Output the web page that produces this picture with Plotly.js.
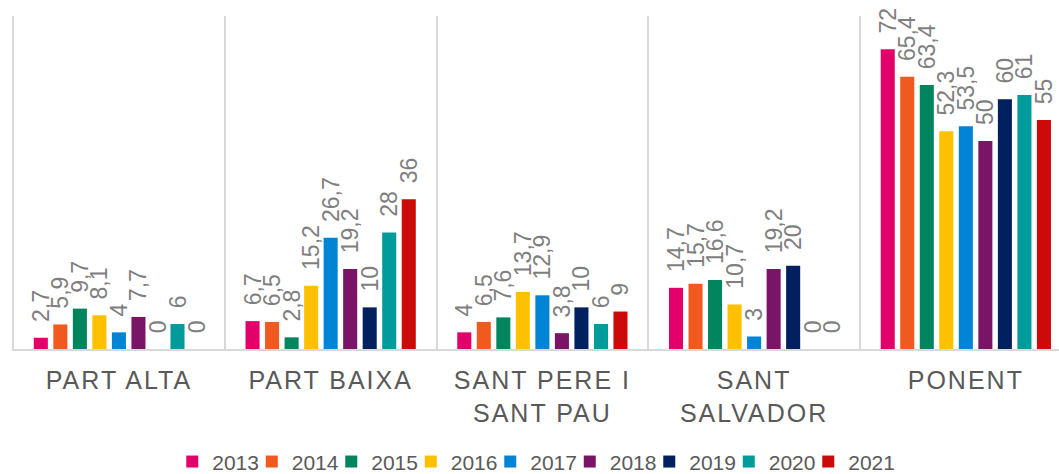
<!DOCTYPE html>
<html>
<head>
<meta charset="utf-8">
<script src="https://cdn.plot.ly/plotly-3.0.1.min.js"></script>
<style>
  html, body { margin: 0; padding: 0; background: #fff; }
  #chart .xtick text { letter-spacing: 2px; }
  #chart .legend .scrollbox { clip-path: none !important; }
</style>
</head>
<body>
<div id="chart" style="width:1059px;height:474px;"></div>
<script>
const categories = ["PART ALTA", "PART BAIXA", "SANT PERE I<br>SANT PAU", "SANT<br>SALVADOR", "PONENT"];
const years = ["2013", "2014", "2015", "2016", "2017", "2018", "2019", "2020", "2021"];
const v2013 = [2.7, 6.7, 4, 14.7, 72];
const v2014 = [5.9, 6.5, 6.5, 15.7, 65.4];
const v2015 = [9.7, 2.8, 7.6, 16.6, 63.4];
const v2016 = [8.1, 15.2, 13.7, 10.7, 52.3];
const v2017 = [4, 26.7, 12.9, 3, 53.5];
const v2018 = [7.7, 19.2, 3.8, 19.2, 50];
const v2019 = [0, 10, 10, 20, 60];
const v2020 = [6, 28, 6, 0, 61];
const v2021 = [0, 36, 9, 0, 55];
const seriesValues = [v2013, v2014, v2015, v2016, v2017, v2018, v2019, v2020, v2021];
const colors = ["#E2006A", "#F15A1E", "#00855F", "#FFC000", "#0084D6", "#7A1466", "#00205F", "#009B9A", "#CC0A0A"];

const traces = years.map((yr, i) => ({
  type: "bar",
  name: yr,
  x: categories,
  y: seriesValues[i],
  marker: { color: colors[i] },
  texttemplate: "\u00A0\u00A0%{y}",
  textposition: "outside",
  textangle: -90,
  constraintext: "none",
  cliponaxis: false,
  textfont: { family: "Liberation Sans, Arial, sans-serif", size: 23, color: "#7F7F7F" },
  hoverinfo: "none"
}));

const layout = {
  width: 1059,
  height: 474,
  margin: { l: 12, r: 0, t: 16, b: 125, autoexpand: false },
  paper_bgcolor: "#ffffff",
  plot_bgcolor: "#ffffff",
  separators: ", ",
  barmode: "group",
  bargap: 0.17,
  bargroupgap: 0.28,
  showlegend: true,
  legend: {
    orientation: "h",
    x: 0.495,
    xanchor: "center",
    y: -0.339,
    yanchor: "middle",
    font: { family: "Liberation Sans, Arial, sans-serif", size: 21, color: "#595959" },
    itemwidth: 30,
    entrywidth: 34.5,
    entrywidthmode: "pixels",
    traceorder: "normal"
  },
  xaxis: {
    type: "category",
    range: [-0.505, 4.44],
    tickson: "boundaries",
    ticks: "",
    showgrid: true,
    gridcolor: "#D9D9D9",
    gridwidth: 2,
    showline: true,
    linecolor: "#D9D9D9",
    linewidth: 2,
    tickfont: { family: "Liberation Sans, Arial, sans-serif", size: 25, color: "#595959" },
    ticklabelstandoff: 8,
    fixedrange: true
  },
  yaxis: {
    range: [0, 80],
    visible: false,
    showgrid: false,
    zeroline: false,
    fixedrange: true
  }
};

Plotly.newPlot("chart", traces, layout, { displayModeBar: false, staticPlot: true });
</script>
</body>
</html>
